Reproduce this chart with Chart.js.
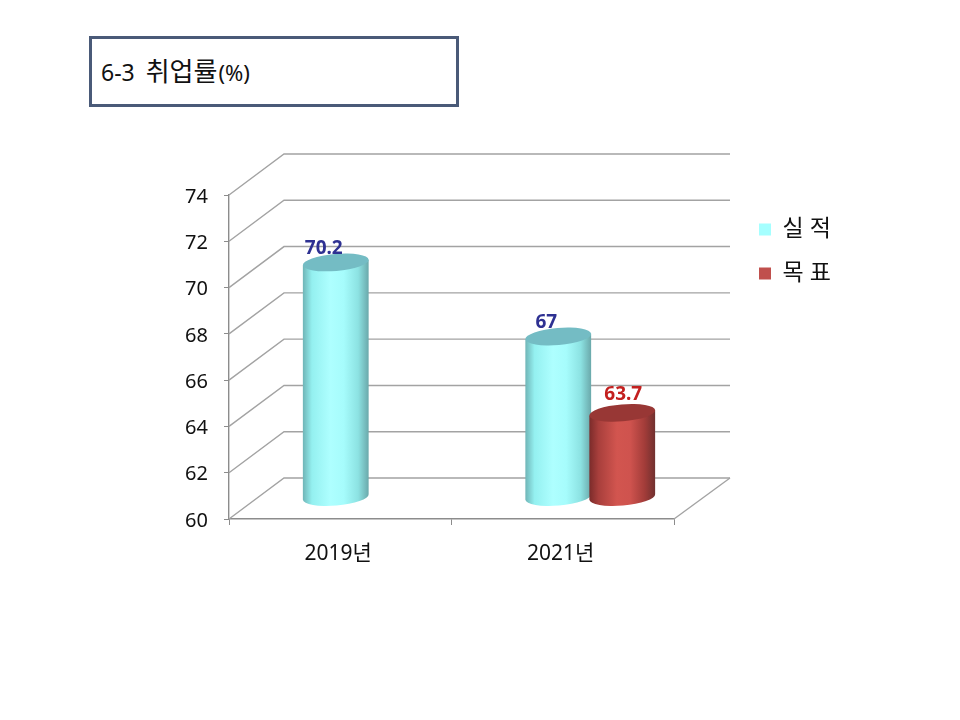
<!DOCTYPE html>
<html lang="ko">
<head>
<meta charset="utf-8">
<title>6-3 취업률</title>
<script src="https://cdn.jsdelivr.net/npm/chart.js@4"></script>
<style>
  html, body { margin: 0; padding: 0; background: #fff; }
  #wrap { position: relative; width: 960px; height: 720px; overflow: hidden; }
  #chart { position: absolute; left: 0; top: 0; }
  #titleBox {
    position: absolute; left: 89px; top: 36px; width: 355px; height: 65px;
    border: 3px solid #4a5a78; background: #fff;
    font-family: "Noto Sans", "Noto Sans CJK KR", sans-serif;
    font-size: 23px; line-height: 65px; color: #111; padding-left: 9px; white-space: nowrap;
  }
  #titleBox .ko { font-size: 26px; margin-left: 5px; }
  #titleBox .unit { font-size: 22px; margin-left: 1px; }
</style>
</head>
<body>
<div id="wrap">
  <div id="titleBox">6-3 <span class="ko">취업률</span><span class="unit">(%)</span></div>
  <canvas id="chart" width="960" height="720"></canvas>
</div>
<script>
let categories = ["2019년", "2021년"];
let actual = [70.2, 67];
let target = [null, 63.7];
let yTicks = [60, 62, 64, 66, 68, 70, 72, 74];

const FONT = '"Noto Sans", "Noto Sans CJK KR", sans-serif';
const LINE = "#a3a3a3";
// depth of the fake 3D box, bars stand half way in
const DX = 55, DY = -41;

const looks = [
  { stops: ["#6fb4b6", "#94f0f0", "#aeffff", "#a6fcfc", "#8ce2e2", "#6aa8aa"], top: "#74bcc4", shift: 1,
    label: "#2e3192", labelDx: -11, labelDy: -14 },
  { stops: ["#7a2b2a", "#a83f3c", "#d2554f", "#cf534e", "#a23c39", "#70302f"], top: "#983735", shift: -1,
    label: "#c3201f", labelDx: 0, labelDy: -18 }
];

// back wall and floor lines, taken from the scales
const wallPlugin = {
  id: "wall",
  beforeDatasetsDraw(chart) {
    let ctx = chart.ctx, y = chart.scales.y, a = chart.chartArea;
    ctx.save();
    ctx.strokeStyle = LINE;
    ctx.lineWidth = 1.4;
    yTicks.forEach(v => {
      let py = y.getPixelForValue(v);
      ctx.beginPath();
      ctx.moveTo(a.left, py);
      ctx.lineTo(a.left + DX, py + DY);
      ctx.lineTo(a.right + DX + 1, py + DY);
      ctx.stroke();
    });
    ctx.beginPath();
    ctx.moveTo(a.right, a.bottom);
    ctx.lineTo(a.right + DX + 1, a.bottom + DY);
    ctx.stroke();
    ctx.restore();
  }
};

function drawCylinder(ctx, el, baseY, look) {
  let cx = el.x + DX / 2 + look.shift, rx = el.width / 2, ry = 8.5, tilt = -0.085;
  let topY = el.y + DY / 2, botY = baseY + DY / 2 - 1.5;
  let tx = Math.cos(tilt) * rx, ty = Math.sin(tilt) * rx;

  let g = ctx.createLinearGradient(cx - rx, 0, cx + rx, 0);
  [0, 0.14, 0.42, 0.62, 0.84, 1].forEach((p, i) => g.addColorStop(p, look.stops[i]));

  ctx.beginPath();
  ctx.moveTo(cx - tx, topY - ty);
  ctx.lineTo(cx - tx, botY - ty);
  ctx.ellipse(cx, botY, rx, ry, tilt, Math.PI, 0, true);
  ctx.lineTo(cx + tx, topY + ty);
  ctx.closePath();
  ctx.fillStyle = g;
  ctx.fill();

  ctx.beginPath();
  ctx.ellipse(cx, topY, rx, ry, tilt, 0, Math.PI * 2);
  ctx.fillStyle = look.top;
  ctx.fill();
}

const cylinderPlugin = {
  id: "cylinders",
  beforeDatasetDraw() {
    return false; // flat bars are replaced below
  },
  afterDatasetsDraw(chart) {
    let ctx = chart.ctx;
    let baseY = chart.scales.y.getPixelForValue(yTicks[0]);
    chart.data.datasets.forEach((ds, i) => {
      chart.getDatasetMeta(i).data.forEach((el, j) => {
        if (ds.data[j] === null) return;
        drawCylinder(ctx, el, baseY, looks[i]);
      });
    });
    // value labels go on top of every bar
    chart.data.datasets.forEach((ds, i) => {
      let look = looks[i];
      chart.getDatasetMeta(i).data.forEach((el, j) => {
        if (ds.data[j] === null) return;
        ctx.save();
        ctx.font = "bold 19px " + FONT;
        ctx.fillStyle = look.label;
        ctx.textAlign = "center";
        ctx.textBaseline = "middle";
        ctx.fillText(String(ds.data[j]), el.x + DX / 2 + look.labelDx, el.y + DY / 2 + look.labelDy);
        ctx.restore();
      });
    });
  }
};

// legend sits right of the box, outside the chart area
const legendPlugin = {
  id: "legendSpot",
  afterLayout(chart) {
    let l = chart.legend;
    l.left = 738;
    l.right = 870;
    l.top = 197;
    l.bottom = 340;
    l.width = 132;
    l.height = 143;
  }
};

new Chart(document.getElementById("chart"), {
  type: "bar",
  data: {
    labels: categories,
    datasets: [
      { label: "실 적", data: actual, backgroundColor: "#a5ffff", barThickness: 66 },
      { label: "목 표", data: target, backgroundColor: "#c0504d", barThickness: 66 }
    ]
  },
  options: {
    responsive: false,
    animation: false,
    layout: { padding: { left: 0, top: 195, right: 286, bottom: 101 } },
    plugins: {
      tooltip: { enabled: false },
      title: { display: false },
      legend: {
        position: "chartArea",
        align: "start",
        labels: {
          boxWidth: 12, boxHeight: 12, padding: 21,
          color: "#111",
          font: { family: FONT, size: 23 }
        }
      }
    },
    scales: {
      x: {
        afterFit: s => { s.height = 100; },
        border: { color: "#8c8c8c", width: 1.4 },
        grid: { drawOnChartArea: false, color: "#8c8c8c", tickLength: 6 },
        ticks: { color: "#111", padding: 16, labelOffset: -2, font: { family: FONT, size: 21 } }
      },
      y: {
        min: 60,
        max: 74,
        afterFit: s => { s.width = 229; },
        afterBuildTicks: s => { s.ticks = yTicks.map(v => ({ value: v })); },
        border: { color: "#8c8c8c", width: 1.4 },
        grid: { drawOnChartArea: false, color: "#8c8c8c", tickLength: 5 },
        ticks: { color: "#111", padding: 16, labelOffset: 2, font: { family: FONT, size: 20 } }
      }
    }
  },
  plugins: [wallPlugin, cylinderPlugin, legendPlugin]
});
</script>
</body>
</html>
